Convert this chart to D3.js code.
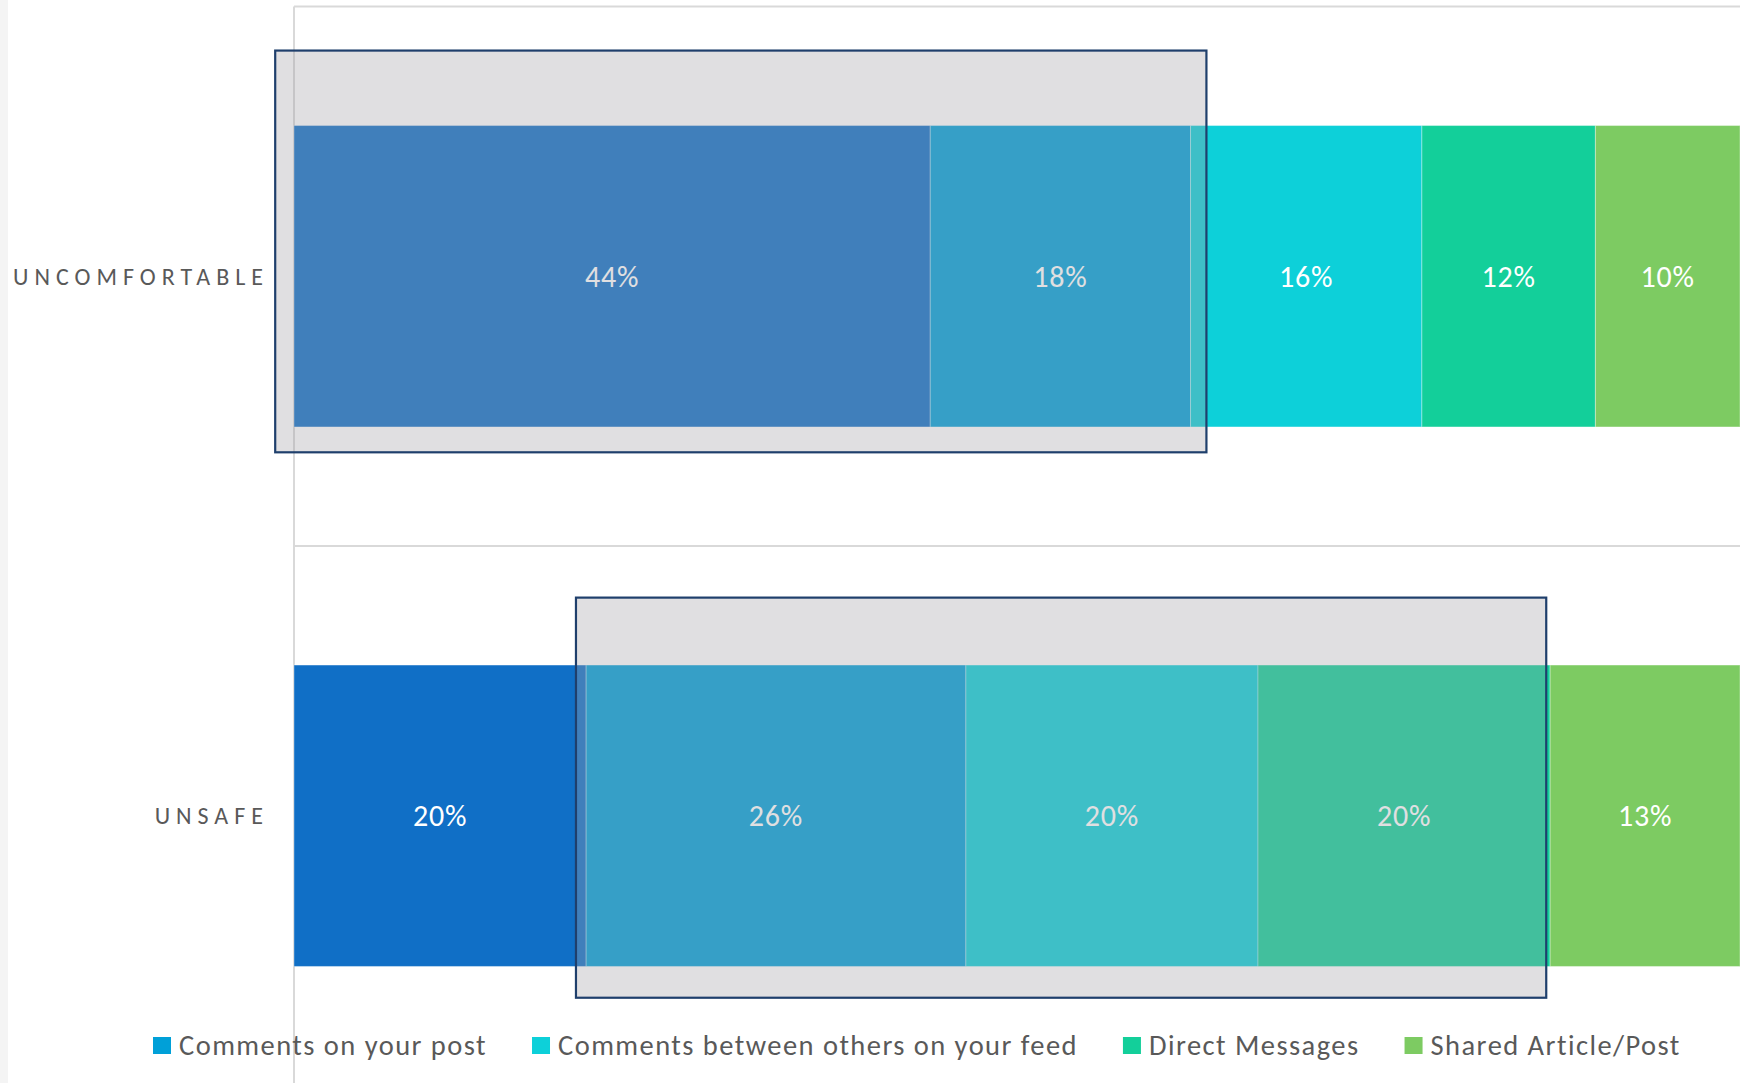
<!DOCTYPE html>
<html>
<head>
<meta charset="utf-8">
<script src="https://cdn.jsdelivr.net/npm/d3@7"></script>
<style>
  html, body { margin: 0; padding: 0; background: #ffffff; }
  svg { display: block; }
  text { font-family: Carlito, Calibri, Lato, sans-serif; }
</style>
</head>
<body>
<svg id="chart" width="1751" height="1083"></svg>
<script>
// Rows of the stacked bar chart
const categories = ["UNCOMFORTABLE", "UNSAFE"];

// Series (first one has no legend entry)
const seriesNames = ["Unlabelled", "Comments on your post", "Comments between others on your feed", "Direct Messages", "Shared Article/Post"];
const legendNames = ["Comments on your post", "Comments between others on your feed", "Direct Messages", "Shared Article/Post"];

// Percentages per row, in series order
const uncomfortableValues = [44, 18, 16, 12, 10];
const unsafeValues = [20, 26, 20, 20, 13];

const seriesColors = ["#106fc6", "#00a0d8", "#0dd0d9", "#13cf9a", "#7dcb62"];

// Highlighted spans (share of the row, 0..1)
const highlightCategories = ["UNCOMFORTABLE", "UNSAFE"];
const highlightFrom = [-0.013, 0.195];
const highlightTo = [0.631, 0.866];

const rows = categories.map((c, i) => {
  const vals = i === 0 ? uncomfortableValues : unsafeValues;
  const row = { category: c };
  seriesNames.forEach((s, j) => row[s] = vals[j]);
  return row;
});

const svg = d3.select("#chart");
const W = 1751, H = 1083;

const plot = { left: 294, right: 1740, top: 6.5, bottom: 1085.5 };

const x = d3.scaleLinear().domain([0, 1]).range([plot.left, plot.right]);
const y = d3.scaleBand().domain(categories).range([plot.top, plot.bottom]).paddingInner(0).paddingOuter(0);
const color = d3.scaleOrdinal().domain(seriesNames).range(seriesColors);

const gapWidth = 0.79;
const barH = y.bandwidth() / (1 + gapWidth);
const barY = c => y(c) + (y.bandwidth() - barH) / 2;

// left page edge strip
svg.append("rect").attr("x", 0).attr("y", 0).attr("width", 8).attr("height", H).attr("fill", "#f4f4f4");

// category separators and value axis baseline
const grid = svg.append("g");
categories.concat([null]).forEach(c => {
  const yy = c === null ? plot.bottom : y(c);
  grid.append("line")
    .attr("x1", plot.left).attr("x2", plot.right)
    .attr("y1", yy).attr("y2", yy)
    .attr("stroke", "#d9d9d9").attr("stroke-width", 2);
});
grid.append("line")
  .attr("x1", plot.left).attr("x2", plot.left)
  .attr("y1", plot.top).attr("y2", plot.bottom)
  .attr("stroke", "#d9d9d9").attr("stroke-width", 2);

// stacked, normalised to each row's total
const stack = d3.stack().keys(seriesNames).offset(d3.stackOffsetExpand);
const layers = stack(rows);

const barsG = svg.append("g");
layers.forEach(layer => {
  barsG.selectAll(null)
    .data(layer)
    .join("rect")
    .attr("x", d => x(d[0]))
    .attr("y", d => barY(d.data.category))
    .attr("width", d => x(d[1]) - x(d[0]))
    .attr("height", barH)
    .attr("fill", color(layer.key))
    .attr("stroke", "#ffffff")
    .attr("stroke-opacity", 0.35)
    .attr("stroke-width", 1);
});

// value labels
const labelsG = svg.append("g");
layers.forEach(layer => {
  labelsG.selectAll(null)
    .data(layer)
    .join("text")
    .attr("x", d => (x(d[0]) + x(d[1])) / 2)
    .attr("y", d => barY(d.data.category) + barH / 2)
    .attr("text-anchor", "middle")
    .attr("dominant-baseline", "central")
    .attr("fill", "#ffffff")
    .style("font-size", "30px")
    .style("letter-spacing", "0.8px")
    .text(d => d.data[layer.key] + "%");
});

// category labels
const catLS = 6;
svg.append("g").selectAll("text")
  .data(categories)
  .join("text")
  .attr("x", 263 + catLS)
  .attr("y", c => barY(c) + barH / 2)
  .attr("text-anchor", "end")
  .attr("dominant-baseline", "central")
  .attr("fill", "#595959")
  .style("font-size", "24px")
  .style("letter-spacing", catLS + "px")
  .text(c => c);

// highlight boxes drawn over the bars
const hlAbove = [0.139, 0.125];
const hlBelow = [0.047, 0.058];
const hlG = svg.append("g");
highlightCategories.forEach((c, i) => {
  const top = barY(c) - y.bandwidth() * hlAbove[i];
  const bottom = barY(c) + barH + y.bandwidth() * hlBelow[i];
  hlG.append("rect")
    .attr("x", x(highlightFrom[i]))
    .attr("y", top)
    .attr("width", x(highlightTo[i]) - x(highlightFrom[i]))
    .attr("height", bottom - top)
    .attr("fill", "#a2a0a6")
    .attr("fill-opacity", 0.335)
    .attr("stroke", "#1f3f6c")
    .attr("stroke-width", 2.2);
});

// legend
const legendG = svg.append("g");
const legendY = 1045.5;
let lx = 153;
legendNames.forEach(name => {
  legendG.append("rect")
    .attr("x", lx).attr("y", legendY - 8.5)
    .attr("width", 18).attr("height", 17)
    .attr("fill", color(name));
  const t = legendG.append("text")
    .attr("x", lx + 26)
    .attr("y", legendY)
    .attr("dominant-baseline", "central")
    .attr("fill", "#595959")
    .style("font-size", "28.5px")
    .style("letter-spacing", "1.45px")
    .text(name);
  lx = lx + 26 + t.node().getComputedTextLength() + 45;
});
</script>
</body>
</html>
